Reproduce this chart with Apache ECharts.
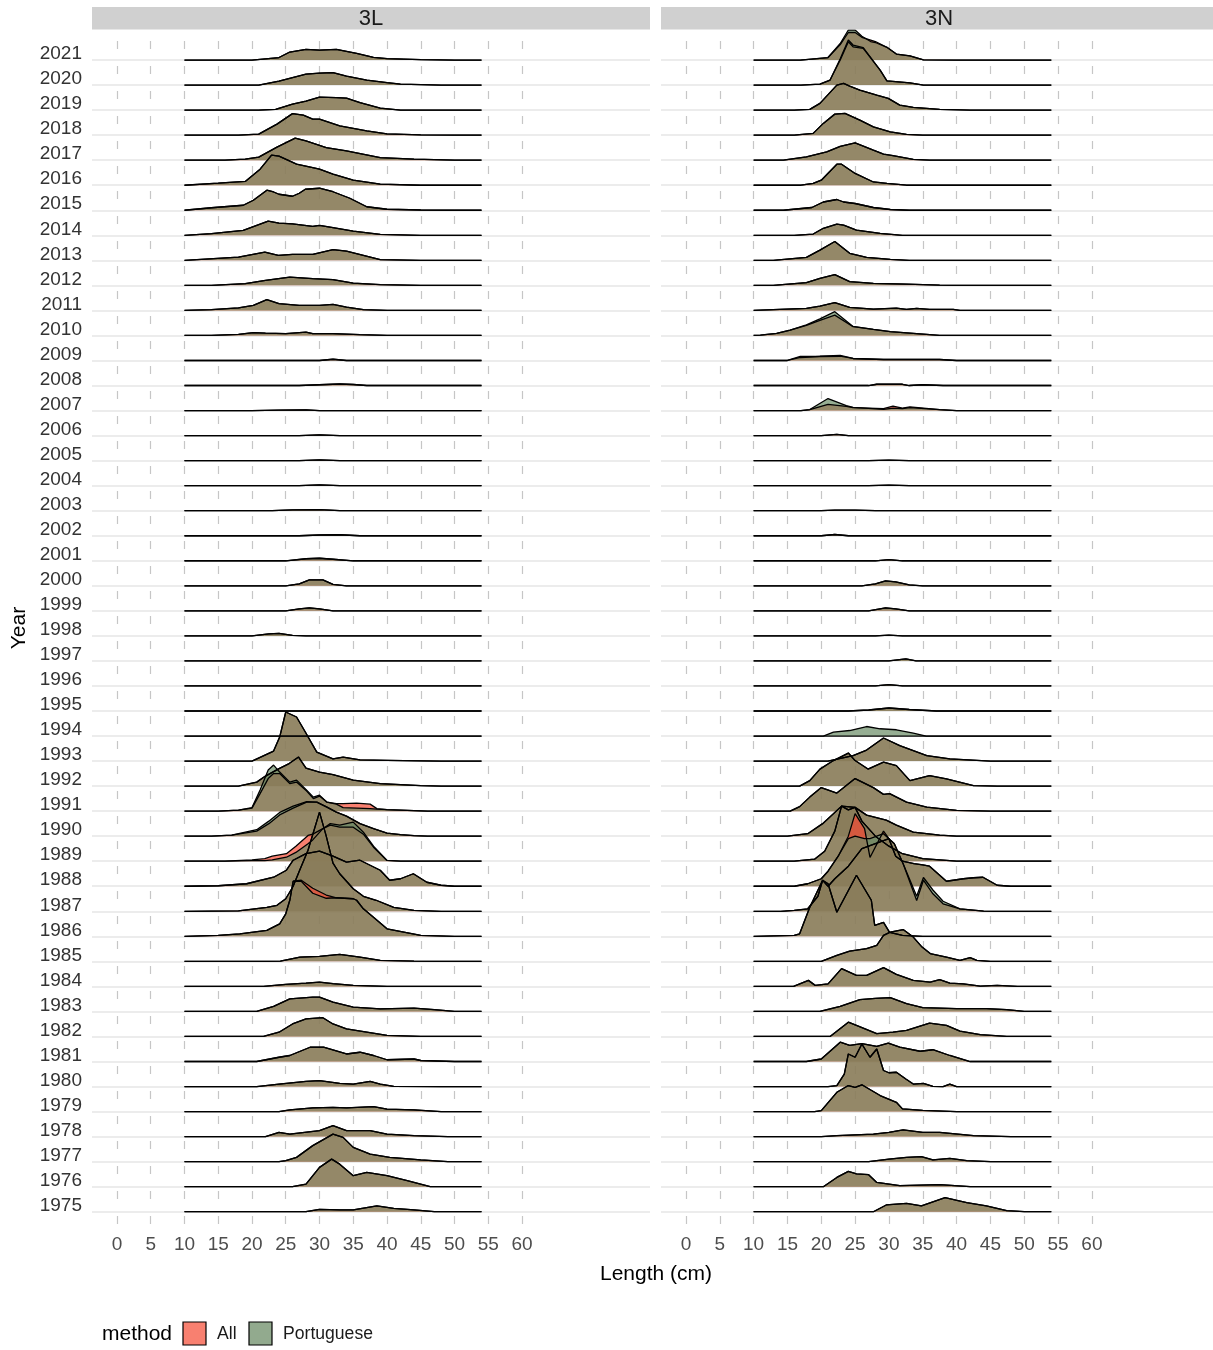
<!DOCTYPE html>
<html><head><meta charset="utf-8">
<script src="https://cdn.jsdelivr.net/npm/echarts@6/dist/echarts.min.js"></script>
<style>html,body{margin:0;padding:0;background:#fff}#c{width:1213px;height:1350px}</style>
</head><body><div id="c"></div>
<script>
const years = [1975,1976,1977,1978,1979,1980,1981,1982,1983,1984,1985,1986,1987,1988,1989,1990,1991,1992,1993,1994,1995,1996,1997,1998,1999,2000,2001,2002,2003,2004,2005,2006,2007,2008,2009,2010,2011,2012,2013,2014,2015,2016,2017,2018,2019,2020,2021];
const xTicks = [0,5,10,15,20,25,30,35,40,45,50,55,60];
const panels = ['3L','3N'];
const methods = ['All','Portuguese'];
const X_START = 10, X_END = 54;

// heights in units of one row spacing, [length cm, height]
const L3_all = {
2021:[[20,0],[24,0.1],[25.6,0.32],[28,0.43],[30,0.4],[32.5,0.43],[35.5,0.27],[38,0.11],[40,0.06],[45,0.02],[50,0]],
2020:[[21,0],[24,0.16],[26,0.3],[28,0.44],[30,0.48],[32,0.5],[34,0.36],[37,0.2],[40,0.1],[42,0.04],[48,0]],
2019:[[21,0],[23.5,0.03],[26,0.24],[28,0.36],[30,0.52],[32.5,0.5],[34,0.48],[36,0.3],[39,0.08],[42,0]],
2018:[[18,0],[21,0.04],[23.7,0.44],[26,0.86],[27.6,0.8],[29,0.64],[30,0.64],[33,0.37],[37,0.17],[40,0.05],[45,0.01],[50,0]],
2017:[[16,0],[19,0.04],[21,0.12],[23.7,0.52],[26.4,0.88],[28,0.77],[31,0.5],[34,0.37],[39,0.1],[44,0.04],[50,0]],
2016:[[10,0],[15,0.08],[19,0.15],[21.2,0.64],[22.9,1.2],[24,1.16],[26.6,0.84],[29,0.7],[30,0.64],[32,0.44],[35,0.2],[39,0.04],[45,0]],
2015:[[10,0],[14,0.1],[18.7,0.2],[20.2,0.4],[22.2,0.8],[23.2,0.73],[24,0.64],[26,0.56],[27,0.68],[27.9,0.84],[30,0.88],[32,0.74],[34.5,0.48],[37,0.14],[40,0.04],[45,0.01],[50,0]],
2014:[[10,0],[14,0.07],[18.7,0.2],[20.7,0.4],[22.4,0.57],[24,0.49],[26,0.46],[29,0.36],[30,0.4],[32,0.31],[35,0.17],[39,0.04],[45,0]],
2013:[[10,0],[18,0.13],[21.9,0.33],[23.9,0.2],[26,0.24],[29,0.24],[32,0.43],[34,0.37],[36.5,0.2],[39,0.03],[45,0]],
2012:[[14,0],[19,0.07],[22,0.2],[25.6,0.33],[29,0.27],[32,0.23],[35,0.09],[39,0.03],[45,0]],
2011:[[10,0],[14,0.03],[18,0.1],[20.2,0.2],[22.2,0.43],[24,0.27],[27,0.2],[30,0.2],[32,0.24],[34,0.13],[36.5,0.03],[40,0]],
2010:[[14,0],[18,0.04],[20.2,0.11],[22,0.09],[25,0.07],[28,0.13],[29,0.07],[32,0.07],[36,0.03],[40,0]],
2009:[[30,0],[32,0.05],[34,0]],
2008:[[27,0],[30,0.03],[33,0.06],[35,0.04],[37,0]],
2007:[[20,0],[24,0.02],[28,0.03],[30,0]],
2006:[[27,0],[30,0.03],[33,0]],
2005:[[27,0],[30,0.03],[33,0]],
2004:[[27,0],[30,0.03],[33,0]],
2003:[[23,0],[26,0.03],[30,0.04],[33,0]],
2002:[[27,0],[30,0.03],[33,0.04],[36,0]],
2001:[[25,0],[28,0.08],[30,0.1],[32,0.06],[35,0]],
2000:[[25,0],[27,0.08],[28.5,0.24],[30.5,0.24],[32,0.06],[34,0]],
1999:[[25,0],[27,0.08],[28.5,0.12],[30,0.08],[32,0]],
1998:[[20,0],[22.5,0.08],[24,0.1],[26,0.02],[28,0]],
1997:[], 1996:[], 1995:[], 1994:[],
1993:[[20,0],[23.2,0.4],[24.1,0.96],[25,1.96],[26.6,1.76],[27.9,1.16],[29.6,0.36],[32,0.09],[33.5,0.16],[36,0.05],[40,0.03],[45,0.01],[48,0]],
1992:[[18,0],[20.7,0.16],[22,0.4],[24,0.7],[25.5,0.9],[26.9,1.16],[28,0.72],[30,0.56],[32,0.46],[35,0.24],[39,0.1],[45,0.02],[48,0]],
1991:[[15,0],[18,0.04],[20,0.12],[21.2,0.7],[22.4,1.3],[23.2,1.5],[24.1,1.5],[25.6,1.1],[26.6,1.16],[28.1,0.8],[29.1,0.5],[30,0.6],[31.1,0.36],[32.5,0.3],[33.5,0.3],[35.5,0.32],[37.5,0.28],[38.5,0.1],[40,0.06],[43,0.03],[46,0]],
1990:[[14,0],[17,0.04],[20.7,0.2],[22.5,0.5],[24.1,0.85],[26.1,1.12],[28.1,1.36],[29.6,1.36],[31.1,1.16],[32.5,0.96],[34,0.8],[36,0.5],[38,0.3],[40,0.12],[42,0.06],[44,0.02],[46,0]],
1989:[[16,0],[20,0.05],[21.9,0.1],[23,0.2],[25.1,0.3],[26.5,0.6],[28.3,1.03],[29,1.08],[30.5,1.3],[31.6,1.44],[33,1.36],[35,1.36],[36.5,1.08],[38,0.56],[40,0.03],[42,0]],
1988:[[10,0],[15,0.02],[19.2,0.1],[23.2,0.36],[25.1,0.64],[26.1,1.04],[28,1.3],[30,1.4],[32,1.2],[34,0.96],[36,1.04],[39,0.64],[40.4,0.24],[42,0.3],[43.9,0.5],[45.9,0.16],[48,0.04],[50,0]],
1987:[[10,0],[18,0.02],[22.2,0.16],[23.7,0.24],[25,0.5],[26.1,1.0],[27,1.6],[28.3,2.44],[30,3.96],[31,3.0],[32,1.92],[33,1.5],[35,0.9],[36.5,0.6],[38.4,0.44],[41,0.16],[44,0.04],[48,0]],
1986:[[10,0],[15,0.04],[18.2,0.1],[22.2,0.24],[24.1,0.5],[25,0.9],[25.6,1.44],[26.1,2.2],[27.3,2.24],[29,1.92],[31,1.65],[32.5,1.54],[35,1.5],[35.5,1.44],[36.5,1.1],[38,0.76],[40,0.3],[45,0.04],[50,0]],
1985:[[22,0],[24.2,0.01],[27.1,0.17],[30,0.2],[33,0.28],[36,0.17],[39,0.04],[44,0.01],[48,0]],
1984:[[21.7,0],[25,0.08],[28,0.13],[30,0.17],[32,0.11],[35,0.04],[40,0]],
1983:[[20.7,0],[23.2,0.2],[25.6,0.5],[29,0.57],[30,0.57],[32,0.37],[35,0.17],[39,0.1],[44,0.13],[47,0.07],[50,0]],
1982:[[21.7,0],[24,0.17],[26,0.5],[28,0.7],[30.5,0.75],[32,0.5],[34,0.3],[37,0.17],[40,0.04],[45,0]],
1981:[[20.7,0],[24,0.17],[25.6,0.24],[28.6,0.57],[30.6,0.57],[34,0.3],[36,0.37],[38,0.24],[40,0.07],[44,0.1],[45,0.04],[50,0]],
1980:[[20.7,0],[24,0.1],[28,0.21],[30,0.24],[33,0.13],[35,0.1],[37.5,0.21],[39,0.1],[41,0.01],[48,0]],
1979:[[24,0],[25.6,0.07],[29,0.15],[32,0.17],[34,0.15],[38,0.2],[40,0.1],[44,0.07],[48,0]],
1978:[[22,0],[24,0.17],[25.6,0.1],[30,0.24],[32,0.44],[34,0.24],[37.5,0.24],[40,0.1],[44,0.04],[49,0]],
1977:[[24,0],[25,0.04],[26.6,0.17],[29,0.64],[32,1.1],[33.5,0.97],[35,0.57],[37.5,0.3],[40.4,0.17],[45,0.07],[49,0]],
1976:[[26,0],[28,0.1],[30,0.77],[31.8,1.1],[33,0.9],[35,0.44],[37,0.57],[40,0.44],[43,0.24],[46.4,0]],
1975:[[28,0],[30,0.09],[33,0.07],[35,0.07],[38.5,0.23],[41,0.13],[44,0.07],[47,0]]
};
const L3_por = Object.assign({}, L3_all, {
1991:[[15,0],[18,0.04],[20,0.14],[21.2,0.84],[22.4,1.64],[23.2,1.84],[24.1,1.56],[25.6,1.16],[26.6,1.24],[28.1,0.84],[29.1,0.56],[30,0.64],[31.1,0.36],[32.5,0.28],[33.5,0.14],[35.5,0.12],[37.5,0.1],[38.5,0.08],[40,0.06],[43,0.03],[46,0]],
1990:[[14,0],[17,0.04],[20.7,0.26],[22.5,0.6],[24.1,0.95],[26.1,1.2],[28.1,1.38],[29.6,1.36],[31.1,1.16],[32.5,0.96],[34,0.8],[36,0.5],[38,0.3],[40,0.12],[42,0.06],[44,0.02],[46,0]],
1989:[[16,0],[20,0.02],[21.9,0.02],[23,0.05],[25.1,0.16],[26.5,0.35],[28.3,0.7],[29,0.85],[30.5,1.3],[31.6,1.5],[33,1.44],[35,1.56],[36.5,1.16],[38,0.6],[40,0.03],[42,0]],
1986:[[10,0],[15,0.04],[18.2,0.1],[22.2,0.24],[24.1,0.5],[25,0.9],[25.6,1.44],[26.1,2.2],[27.3,2.2],[28,2.0],[29,1.72],[31,1.52],[32.5,1.54],[35,1.5],[35.5,1.44],[36.5,1.1],[38,0.76],[40,0.3],[45,0.04],[50,0]]
});

const N3_all = {
2021:[[16.9,0],[21,0.1],[22.8,0.62],[24,1.1],[25,1.1],[26,0.91],[27.3,0.8],[28,0.74],[29.7,0.51],[31.1,0.24],[33.1,0.17],[35.1,0.01],[40,0]],
2020:[[17,0],[19.8,0.04],[21.3,0.2],[22.8,1.0],[24,1.73],[24.7,1.53],[26.2,1.47],[28.7,0.6],[29.7,0.17],[33.1,0.09],[35.1,0]],
2019:[[16,0],[18.3,0.03],[19.8,0.27],[22.3,1.0],[23.3,1.07],[24.2,0.96],[25.7,0.8],[28.2,0.6],[29.9,0.47],[31.6,0.2],[33.6,0.11],[37.5,0.03],[42,0]],
2018:[[16,0],[18.8,0.07],[20.3,0.47],[22,0.84],[23.5,0.87],[25.7,0.6],[27.7,0.33],[30.2,0.13],[32.6,0.03],[35,0]],
2017:[[14.4,0],[17.8,0.13],[20.8,0.33],[22.8,0.55],[25,0.69],[27.7,0.4],[29.2,0.24],[30.6,0.18],[33.6,0.03],[36,0]],
2016:[[17,0],[18.8,0.07],[20,0.2],[22.3,0.84],[23,0.84],[25,0.47],[27.7,0.13],[29.7,0.07],[32.6,0]],
2015:[[14.4,0],[18.6,0.11],[20.3,0.33],[22.3,0.43],[23.3,0.33],[25,0.27],[27.7,0.11],[30.2,0.03],[33,0]],
2014:[[16,0],[18.8,0.05],[20.3,0.28],[22.3,0.45],[23.3,0.41],[25.2,0.21],[28.7,0.08],[32,0]],
2013:[[12.9,0],[17.8,0.12],[19.8,0.41],[22,0.75],[24.2,0.28],[26.7,0.12],[30.2,0.04],[33,0]],
2012:[[12.9,0],[17.8,0.11],[19.8,0.28],[22,0.43],[24.2,0.15],[27.7,0.08],[32.6,0.05],[37.5,0.01],[40,0]],
2011:[[10,0],[12.9,0.03],[17.8,0.08],[19.8,0.17],[22,0.31],[24.2,0.12],[27.7,0.05],[31.1,0.09],[32.6,0.04],[34.1,0.08],[36,0.04],[39.5,0.04],[40.5,0]],
2010:[[10,0],[11,0.01],[13.4,0.08],[15.4,0.21],[17.8,0.4],[19.8,0.6],[22,0.81],[24.7,0.35],[27.7,0.24],[30.2,0.15],[33.6,0.08],[37.5,0]],
2009:[[15,0],[16.9,0.12],[19.8,0.16],[22.8,0.17],[24.7,0.08],[29.2,0.04],[37.5,0.04],[40,0]],
2008:[[27,0],[28.2,0.05],[32,0.05],[33,0],[35,0.03],[38,0]],
2007:[[17,0],[18.3,0.04],[21,0.25],[23.7,0.17],[24.7,0.12],[29.2,0.08],[30.6,0.18],[32,0.1],[33.1,0.15],[37.5,0.04],[40,0]],
2006:[[20,0],[22.3,0.05],[24,0]],
2005:[[27,0],[30,0.02],[33,0]],
2004:[[27,0],[30,0.02],[33,0]],
2003:[[20,0],[22,0.02],[25,0.02],[28,0]],
2002:[[20,0],[22,0.05],[24,0]],
2001:[[28,0],[30,0.05],[32,0]],
2000:[[26,0],[28,0.08],[29.5,0.2],[31,0.16],[33,0.04],[35,0]],
1999:[[27,0],[29.5,0.12],[31,0.08],[33,0]],
1998:[[28,0],[30,0.03],[32,0]],
1997:[[30,0],[32.5,0.08],[34,0]],
1996:[[28,0],[30,0.05],[32,0]],
1995:[[24,0],[27,0.04],[30,0.12],[33,0.06],[37,0]],
1994:[],
1993:[[21,0],[24.7,0.22],[26.7,0.44],[29.2,0.92],[31.6,0.62],[33.6,0.42],[35.6,0.22],[39,0.09],[45,0]],
1992:[[16.8,0],[18.3,0.22],[19.8,0.68],[21.8,1.02],[24,1.32],[25,1.02],[26.9,0.68],[29.2,0.96],[31.1,0.82],[33.1,0.22],[36,0.42],[38.5,0.29],[42.5,0.02],[46,0]],
1991:[[15.4,0],[16.8,0.18],[18.3,0.56],[20,0.94],[22.3,0.72],[25,1.3],[27.7,0.94],[29.2,0.67],[30.1,0.7],[32.6,0.36],[35.6,0.16],[40,0.03],[45,0]],
1990:[[15,0],[18,0.1],[20.2,0.5],[23,1.2],[25,1.15],[26.7,0.84],[29.6,0.64],[31.1,0.44],[33.6,0.16],[37.5,0.04],[40,0]],
1989:[[16,0],[19,0.08],[20.5,0.4],[22,1.2],[23,2.2],[24,2.05],[25,2.15],[26,1.6],[28,1.0],[30,0.6],[32,0.3],[35,0.1],[40,0]],
1988:[[16,0],[18,0.1],[20,0.3],[21,0.6],[22.5,1.2],[24,2.0],[25,2.9],[26.4,2.3],[27.2,1.15],[29.2,2.2],[30,1.9],[31,1.2],[32,1.0],[33.7,0.9],[35,0.85],[36,0.8],[38.5,0.2],[41,0.3],[42.5,0.34],[43.9,0.36],[46,0.04],[48,0]],
1987:[[14,0],[16,0.04],[18,0.1],[19.5,0.6],[20.2,1.24],[21,1.0],[22,1.3],[24,1.8],[26,2.5],[28,2.7],[30,2.9],[30.8,2.7],[32.1,1.9],[34.1,0.43],[35.1,1.24],[36.5,0.7],[38,0.3],[40.5,0.1],[44,0.01],[46,0]],
1986:[[10,0],[16,0.04],[16.8,0.1],[18.3,1.16],[20.2,2.24],[21,2.1],[22.3,0.96],[25.2,2.44],[27.4,1.44],[27.9,0.44],[29.2,0.56],[30.1,0.16],[32,0.04],[35,0]],
1985:[[20,0],[22.3,0.24],[24.2,0.41],[26.7,0.51],[28.2,0.64],[29.2,1.04],[30.2,1.17],[32.1,1.27],[33.6,0.97],[34.9,0.57],[36.1,0.31],[38.5,0.17],[40.5,0.04],[42,0.15],[43,0.04],[45,0]],
1984:[[15.9,0],[18.1,0.24],[19.1,0.04],[21,0.1],[23,0.71],[25.2,0.44],[26.7,0.44],[29.2,0.75],[31.1,0.48],[33.6,0.24],[36.1,0.17],[37.5,0.27],[39,0.13],[41,0.1],[43.5,0.01],[46,0.04],[49,0]],
1983:[[19.8,0],[22.8,0.2],[25.7,0.47],[28,0.52],[30.2,0.55],[32.6,0.31],[35,0.15],[40,0.11],[44.4,0.11],[47.4,0.07],[50,0]],
1982:[[21.3,0],[24,0.57],[25.2,0.44],[28.2,0.11],[30.6,0.17],[32.6,0.24],[36,0.53],[38.5,0.44],[40.5,0.21],[43.5,0.07],[47.4,0]],
1981:[[17.8,0],[20,0.1],[22.8,0.77],[24.2,0.64],[26,0.71],[28.2,0.6],[29.9,0.73],[31.6,0.57],[34.6,0.41],[36.5,0.47],[39,0.24],[42,0]],
1980:[[21,0],[22.3,0.04],[23.4,0.5],[24,1.3],[25,1.17],[26,1.7],[27.2,1.17],[28.2,1.5],[29.2,0.64],[30,0.55],[31.1,0.57],[32.5,0.3],[33.6,0.1],[35.1,0.13],[36.5,0.01],[38,0],[39,0.1],[40,0]],
1979:[[19,0],[20,0.04],[22.3,0.77],[24,1.04],[25,0.97],[26,1.07],[28.7,0.64],[31.1,0.37],[32,0.11],[35,0.05],[40,0]],
1978:[[20,0],[22.3,0.04],[27.7,0.1],[30,0.17],[32.1,0.27],[35,0.17],[37.5,0.17],[42.5,0.04],[48,0]],
1977:[[27,0],[30,0.1],[32.6,0.17],[34.8,0.2],[36.5,0.07],[39,0.13],[41.5,0.04],[45,0]],
1976:[[20.3,0],[22.3,0.37],[24,0.61],[25.2,0.51],[27,0.48],[28.2,0.17],[31.6,0.04],[37.5,0.08],[42,0]],
1975:[[27.7,0],[29.6,0.27],[32.6,0.33],[34.8,0.23],[38.3,0.56],[41.5,0.36],[44.4,0.23],[47.4,0.04],[50,0]]
};
const N3_por = Object.assign({}, N3_all, {
2021:[[16.9,0],[21,0.1],[22.8,0.66],[24,1.2],[25,1.2],[26,0.95],[27.3,0.74],[28,0.7],[29.7,0.51],[31.1,0.24],[33.1,0.17],[35.1,0.01],[40,0]],
2020:[[17,0],[19.8,0.04],[21.3,0.2],[22.8,1.05],[24,1.8],[24.7,1.6],[26.2,1.5],[28.7,0.6],[29.7,0.17],[33.1,0.09],[35.1,0]],
2010:[[10,0],[11,0.01],[13.4,0.08],[15.4,0.21],[17.8,0.42],[19.8,0.66],[22,0.95],[24.7,0.36],[27.7,0.24],[30.2,0.15],[33.6,0.08],[37.5,0]],
2009:[[15,0],[16.9,0.16],[19.8,0.17],[22.8,0.2],[24.7,0.08],[29.2,0.04],[37.5,0.04],[40,0]],
2007:[[17,0],[18.3,0.04],[21,0.48],[23.7,0.2],[24.7,0.13],[29.2,0.05],[30.6,0.1],[32,0.08],[33.1,0.12],[37.5,0.04],[40,0]],
1994:[[20.3,0],[21.8,0.16],[24.2,0.22],[26.7,0.38],[28.7,0.29],[31.1,0.25],[33.6,0.12],[35.5,0]],
1988:[[16,0],[18,0.1],[20,0.3],[21,0.6],[22.5,1.2],[24,1.9],[25,2.0],[26.4,1.9],[27.2,1.9],[29.2,2.1],[30,1.9],[31,1.2],[32,1.0],[33.7,0.9],[35,0.85],[36,0.8],[38.5,0.2],[41,0.3],[42.5,0.34],[43.9,0.36],[46,0.04],[48,0]],
1987:[[14,0],[16,0.04],[18,0.1],[19.5,0.6],[20.2,1.24],[21,1.0],[22,1.3],[24,1.8],[26,2.5],[28,2.7],[30,2.9],[30.8,2.7],[32.1,1.9],[34.1,0.6],[35.1,1.35],[36.5,0.85],[38,0.4],[40.5,0.1],[44,0.01],[46,0]]
});

const FILL = { All: 'rgba(245,74,51,0.7)', Portuguese: 'rgba(106,140,101,0.7)' };
const KEY = { All: '#f88070', Portuguese: '#92aa8e' };
const FONT = '"Liberation Sans", Arial, sans-serif';

const sources = [[L3_all, L3_por], [N3_all, N3_por]];
const series = [];
for (let p = 0; p < 2; p++) {
  for (let k = years.length - 1; k >= 0; k--) {
    const yr = years[k];
    methods.forEach((m, mi) => {
      const pts = (sources[p][mi][yr] || []).slice();
      if (!pts.length || pts[0][0] > X_START) pts.unshift([X_START, 0]);
      if (pts[pts.length - 1][0] < X_END) pts.push([X_END, 0]);
      series.push({
        type: 'line', name: m, xAxisIndex: p, yAxisIndex: p,
        data: pts.map(d => [d[0], k + d[1]]),
        symbol: 'none', showSymbol: false, silent: true, animation: false,
        lineStyle: { color: '#000', width: 1.3 },
        areaStyle: { color: FILL[m], opacity: 1, origin: k },
        z: 3
      });
    });
  }
}

const yIdx = years.map((y, i) => i);
function xAxisFor(p, min, max) {
  return {
    type: 'value', gridIndex: p, min: min, max: max,
    axisLine: { show: false }, axisTick: { show: false, customValues: xTicks },
    axisLabel: { customValues: xTicks, margin: 5, fontSize: 19, color: '#4d4d4d', fontFamily: FONT },
    splitLine: { show: true, lineStyle: { color: '#c6c6c6', width: 1.2, type: [8, 17], dashOffset: 14 } }
  };
}
function yAxisFor(p) {
  return {
    type: 'value', gridIndex: p, min: -0.73, max: 47.2,
    axisLine: { show: false }, axisTick: { show: false, customValues: yIdx },
    axisLabel: { show: p === 0, customValues: yIdx, formatter: v => String(years[Math.round(v)]), margin: 10,
      fontSize: 19, color: '#333', fontFamily: FONT, verticalAlign: 'bottom', lineHeight: 12 },
    splitLine: { show: true, lineStyle: { color: '#e6e6e6', width: 1.5 } }
  };
}

const chart = echarts.init(document.getElementById('c'), null, { renderer: 'canvas' });
chart.setOption({
  animation: false,
  backgroundColor: '#fff',
  grid: [
    { left: 92, top: 30, width: 558, height: 1200 },
    { left: 661, top: 30, width: 552, height: 1200 }
  ],
  xAxis: [xAxisFor(0, -3.7, 78.96), xAxisFor(1, -3.69, 77.9)],
  yAxis: [yAxisFor(0), yAxisFor(1)],
  series: series,
  graphic: [
    { type: 'rect', shape: { x: 92, y: 7, width: 558, height: 22.5 }, style: { fill: '#d0d0d0' }, z: 10 },
    { type: 'rect', shape: { x: 661, y: 7, width: 552, height: 22.5 }, style: { fill: '#d0d0d0' }, z: 10 },
    { type: 'text', x: 371, y: 18.5, style: { text: panels[0], font: '22px ' + FONT, fill: '#1a1a1a', textAlign: 'center', textVerticalAlign: 'middle' }, z: 11 },
    { type: 'text', x: 939, y: 18.5, style: { text: panels[1], font: '22px ' + FONT, fill: '#1a1a1a', textAlign: 'center', textVerticalAlign: 'middle' }, z: 11 },
    { type: 'text', x: 656, y: 1274, style: { text: 'Length (cm)', font: '21px ' + FONT, fill: '#000', textAlign: 'center', textVerticalAlign: 'middle' }, z: 11 },
    { type: 'text', x: 19, y: 628, rotation: Math.PI / 2, style: { text: 'Year', font: '21px ' + FONT, fill: '#000', textAlign: 'center', textVerticalAlign: 'middle' }, z: 11 },
    { type: 'text', x: 102, y: 1334, style: { text: 'method', font: '21px ' + FONT, fill: '#000', textAlign: 'left', textVerticalAlign: 'middle' }, z: 11 },
    { type: 'rect', shape: { x: 183, y: 1322, width: 23, height: 23 }, style: { fill: KEY.All, stroke: '#000', lineWidth: 1.2 }, z: 11 },
    { type: 'text', x: 217, y: 1334, style: { text: methods[0], font: '17.6px ' + FONT, fill: '#1a1a1a', textAlign: 'left', textVerticalAlign: 'middle' }, z: 11 },
    { type: 'rect', shape: { x: 249, y: 1322, width: 23, height: 23 }, style: { fill: KEY.Portuguese, stroke: '#000', lineWidth: 1.2 }, z: 11 },
    { type: 'text', x: 283, y: 1334, style: { text: methods[1], font: '17.6px ' + FONT, fill: '#1a1a1a', textAlign: 'left', textVerticalAlign: 'middle' }, z: 11 }
  ]
});
</script>
</body></html>
